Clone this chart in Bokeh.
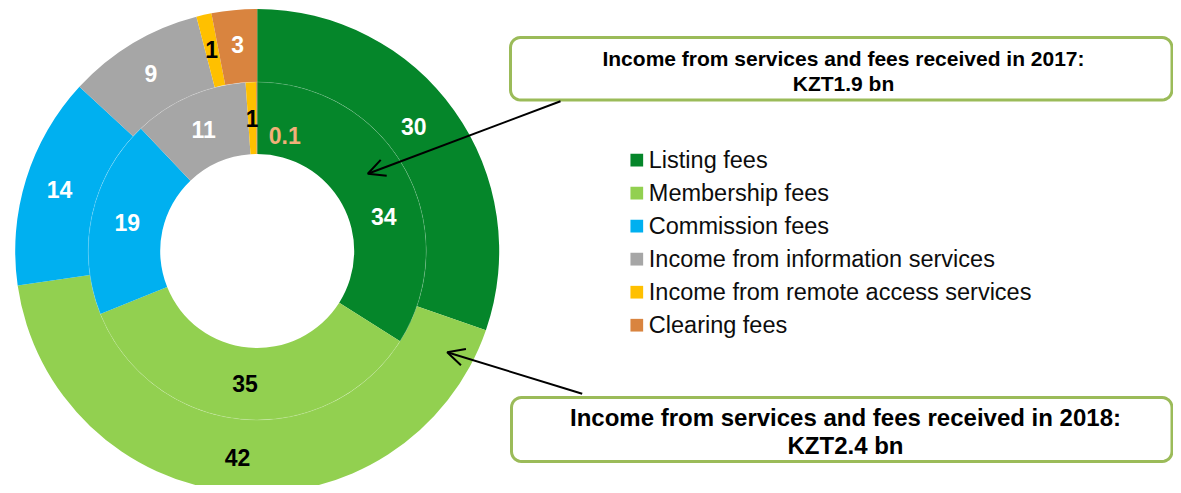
import numpy as np
from bokeh.plotting import figure
from bokeh.models import Range1d, Arrow, OpenHead, ColumnDataSource
from bokeh.core.properties import value
from bokeh.embed import file_html
from bokeh.resources import INLINE

# ---------------- data ----------------
categories = ["Listing fees", "Membership fees", "Commission fees",
              "Income from information services",
              "Income from remote access services", "Clearing fees"]
values_2018 = [30, 42, 14, 9, 1, 3]        # outer ring
values_2017 = [34, 35, 19, 11, 1, 0.1]     # inner ring
labels_2018 = ["30", "42", "14", "9", "1", "3"]
labels_2017 = ["34", "35", "19", "11", "1", "0.1"]
colors = ["#05862A", "#92D050", "#00B0F0", "#A6A6A6", "#FFC000", "#D9843F"]
label_colors_2018 = ["white", "black", "white", "white", "black", "white"]
label_colors_2017 = ["white", "black", "white", "white", "black", "#F2B079"]
box_2017_lines = ["Income from services and fees received in 2017:", "KZT1.9 bn"]
box_2018_lines = ["Income from services and fees received in 2018:", "KZT2.4 bn"]

# ---------------- layout (pixel-like coordinates, y down -> negative) ----------------
FONT = "Liberation Sans"
W, H = 1173, 485
p = figure(width=W, height=H, output_backend="svg", toolbar_location=None,
           x_range=Range1d(0, W), y_range=Range1d(-H, 0),
           min_border=0, outline_line_color=None, background_fill_color="white")
p.axis.visible = False
p.grid.visible = False

CX, CY = 256.7, -250.5
R_OUT, R_MID, R_IN = 242, 169, 97


def ring(vals, r0, r1, lab_r, labels, lab_colors, nudges):
    total = float(sum(vals))
    cum = np.concatenate([[0], np.cumsum(vals)])
    start = np.pi / 2 - 2 * np.pi * cum[:-1] / total
    end = np.pi / 2 - 2 * np.pi * cum[1:] / total
    src = ColumnDataSource(dict(start=start, end=end, color=colors))
    p.annular_wedge(x=CX, y=CY, inner_radius=r0, outer_radius=r1,
                    start_angle="start", end_angle="end", direction="clock",
                    fill_color="color", line_color=None, source=src)
    mid = (start + end) / 2
    lx = CX + lab_r * np.cos(mid)
    ly = CY + lab_r * np.sin(mid)
    for i, (dx, dy) in nudges.items():
        lx[i] += dx
        ly[i] -= dy
    lsrc = ColumnDataSource(dict(x=lx, y=ly, t=labels, c=lab_colors))
    p.text(x="x", y="y", text="t", text_color="c", source=lsrc,
           text_font=value(FONT), text_font_style="bold", text_font_size="23px",
           text_align="center", text_baseline="middle")


ring(values_2018, R_MID, R_OUT, 207, labels_2018, label_colors_2018, {0: (-12, -4)})
ring(values_2017, R_IN, R_MID, 133, labels_2017, label_colors_2017, {0: (10, 30), 5: (28, 17)})

# faint separator between rings
p.circle(x=[CX], y=[CY], radius=R_MID, fill_color=None, line_color="white",
         line_alpha=0.35, line_width=0.5)

# ---------------- legend ----------------
n = len(categories)
leg_y = [-(159.7 + 33 * i) for i in range(n)]
p.rect(x=[636.3] * n, y=leg_y, width=12.7, height=12.7,
       fill_color=colors, line_color=None)
p.text(x=[648.3] * n, y=[v + 0.5 for v in leg_y], text=categories, text_color="#0D0D0D",
       text_font=value(FONT), text_font_size="23.5px",
       text_align="left", text_baseline="middle")


# ---------------- callout boxes ----------------
def rounded_rect(x0, y0, x1, y1, r, nseg=8):
    xs, ys = [], []
    corners = [(x1 - r, y0 + r, -90, 0), (x1 - r, y1 - r, 0, 90),
               (x0 + r, y1 - r, 90, 180), (x0 + r, y0 + r, 180, 270)]
    for cx, cy, a0, a1 in corners:
        for a in np.linspace(np.radians(a0), np.radians(a1), nseg):
            xs.append(cx + r * np.cos(a))
            ys.append(-(cy + r * np.sin(a)))
    return xs, ys


for (x0, y0, x1, y1) in [(510, 37, 1171.5, 99.5), (511, 397, 1171.5, 461)]:
    xs, ys = rounded_rect(x0, y0, x1, y1, 10)
    p.patch(xs, ys, fill_color="white", line_color="#9BBB59", line_width=3)

p.text(x=[843, 843], y=[-57.5, -82.5], text=box_2017_lines, text_color="black",
       text_font=value(FONT), text_font_style="bold", text_font_size="21px",
       text_align="center", text_baseline="middle")
p.text(x=[845, 845], y=[-416.7, -445], text=box_2018_lines, text_color="black",
       text_font=value(FONT), text_font_style="bold", text_font_size="24px",
       text_align="center", text_baseline="middle")

# ---------------- arrows ----------------
for (xs_, ys_, xe, ye) in [(560, 100.7, 367.3, 173.3), (581.7, 393.3, 446.7, 351.7)]:
    p.add_layout(Arrow(end=OpenHead(size=17, line_width=2, line_color="black"),
                       x_start=xs_, y_start=-ys_, x_end=xe, y_end=-ye,
                       line_width=2, line_color="black"))

open("out.html", "w").write(file_html(p, INLINE))
